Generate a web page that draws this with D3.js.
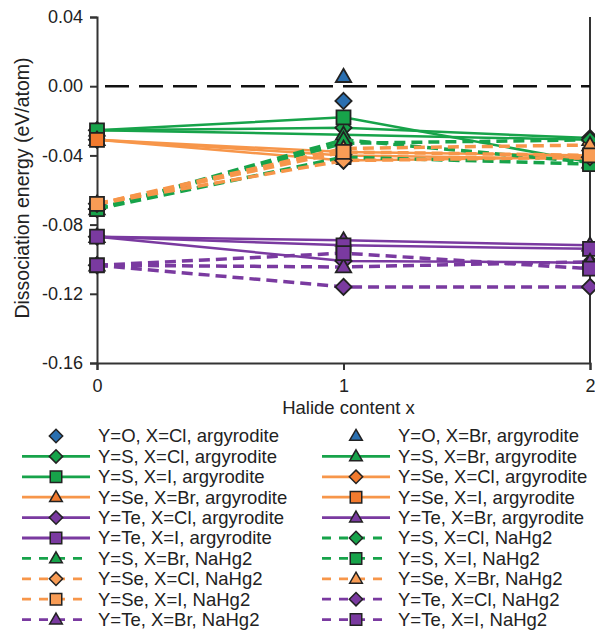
<!DOCTYPE html>
<html>
<head>
<meta charset="utf-8">
<script src="https://cdn.jsdelivr.net/npm/d3@7"></script>
<style>
  html, body { margin: 0; padding: 0; background: #fff; }
  svg { display: block; font-family: "Liberation Sans", Arial, sans-serif; }
</style>
</head>
<body>
<svg id="chart" width="595" height="633"></svg>
<script>
// ---------------- DATA ----------------
const xValues = [0, 1, 2];
const yTicks = [0.04, 0.00, -0.04, -0.08, -0.12, -0.16];
const xTicks = [0, 1, 2];

const seriesNames = [
  "Y=O, X=Cl, argyrodite",
  "Y=O, X=Br, argyrodite",
  "Y=S, X=Cl, argyrodite",
  "Y=S, X=Br, argyrodite",
  "Y=S, X=I, argyrodite",
  "Y=Se, X=Cl, argyrodite",
  "Y=Se, X=Br, argyrodite",
  "Y=Se, X=I, argyrodite",
  "Y=Te, X=Cl, argyrodite",
  "Y=Te, X=Br, argyrodite",
  "Y=Te, X=I, argyrodite",
  "Y=S, X=Cl, NaHg2",
  "Y=S, X=Br, NaHg2",
  "Y=S, X=I, NaHg2",
  "Y=Se, X=Cl, NaHg2",
  "Y=Se, X=Br, NaHg2",
  "Y=Se, X=I, NaHg2",
  "Y=Te, X=Cl, NaHg2",
  "Y=Te, X=Br, NaHg2",
  "Y=Te, X=I, NaHg2"
];

const seriesValues = [
  [null, -0.0085, null],
  [null, 0.0055, null],
  [-0.0255, -0.024, -0.030],
  [-0.0255, -0.028, -0.031],
  [-0.0255, -0.018, -0.044],
  [-0.031, -0.043, -0.041],
  [-0.031, -0.038, -0.040],
  [-0.031, -0.040, -0.042],
  [-0.087, -0.101, -0.102],
  [-0.087, -0.089, -0.092],
  [-0.087, -0.092, -0.094],
  [-0.071, -0.033, -0.031],
  [-0.071, -0.031, -0.044],
  [-0.071, -0.041, -0.045],
  [-0.068, -0.043, -0.041],
  [-0.068, -0.036, -0.034],
  [-0.068, -0.038, -0.040],
  [-0.1035, -0.116, -0.116],
  [-0.1035, -0.1045, -0.1015],
  [-0.1035, -0.0965, -0.1055]
];

const xTitle = "Halide content x";
const yTitle = "Dissociation energy (eV/atom)";

// ---------------- STYLE ----------------
const colorByY = { O: "#2a6fb0", S: "#17a34a", Se: "#f7964a", Te: "#7a3aa0" };
const fillByY = {
  arg: { O: "#2a6fb0", S: "#17a34a", Se: "#f27a2e", Te: "#7a3aa0" },
  na:  { O: "#2a6fb0", S: "#17a34a", Se: "#f89c55", Te: "#7a3aa0" }
};
const markerByX = { Cl: "diamond", Br: "triangle", I: "square" };

function parse(name) {
  const m = name.match(/Y=(\w+), X=(\w+), (\w+)/);
  return { Y: m[1], X: m[2], struct: m[3] };
}

function markerPath(type, s) {
  if (type === "square") {
    const h = s / 2;
    return `M${-h},${-h}H${h}V${h}H${-h}Z`;
  } else if (type === "diamond") {
    const h = s * 0.58;
    return `M0,${-h}L${h},0L0,${h}L${-h},0Z`;
  } else {
    const w = s * 0.55, hh = s * 0.95;
    return `M0,${-hh * 0.6}L${w},${hh * 0.4}L${-w},${hh * 0.4}Z`;
  }
}

// ---------------- LAYOUT ----------------
const svg = d3.select("#chart");
const plot = { left: 97, right: 590, top: 17, bottom: 363 };

const x = d3.scaleLinear().domain([0, 2]).range([plot.left, plot.right]);
const y = d3.scaleLinear().domain([-0.16, 0.04]).range([plot.bottom, plot.top]);

const axisColor = "#333";

// Left axis
const yAxis = d3.axisLeft(y).tickValues(yTicks).tickSize(7).tickPadding(7)
  .tickFormat(d => d3.format(".2f")(d).replace("−", "-"));
const gy = svg.append("g").attr("transform", `translate(${plot.left},0)`).call(yAxis);
gy.select(".domain").attr("stroke", axisColor).attr("stroke-width", 2);
gy.selectAll(".tick line").attr("stroke", axisColor).attr("stroke-width", 2);
gy.selectAll(".tick text").attr("font-size", 18).attr("fill", "#222")
  .attr("font-family", "'Liberation Sans', Arial, sans-serif");

// Bottom axis
const xAxis = d3.axisBottom(x).tickValues(xTicks).tickSize(7).tickPadding(9).tickFormat(d3.format("d"));
const gx = svg.append("g").attr("transform", `translate(0,${plot.bottom})`).call(xAxis);
gx.select(".domain").attr("stroke", axisColor).attr("stroke-width", 2);
gx.selectAll(".tick line").attr("stroke", axisColor).attr("stroke-width", 2);
gx.selectAll(".tick text").attr("font-size", 18).attr("fill", "#222")
  .attr("font-family", "'Liberation Sans', Arial, sans-serif");

// Right border line
svg.append("line")
  .attr("x1", x(2)).attr("x2", x(2)).attr("y1", y(0.04)).attr("y2", y(-0.16))
  .attr("stroke", axisColor).attr("stroke-width", 2);

// Zero reference line
svg.append("line")
  .attr("x1", x(0)).attr("x2", x(2)).attr("y1", y(0)).attr("y2", y(0))
  .attr("stroke", "#111").attr("stroke-width", 2.5).attr("stroke-dasharray", "24,10")
  .attr("stroke-dashoffset", -8);

// Axis titles
svg.append("text").attr("x", (plot.left + plot.right) / 2 + 5).attr("y", 414)
  .attr("text-anchor", "middle").attr("font-size", 18.5).attr("fill", "#222").text(xTitle);
svg.append("text")
  .attr("transform", `translate(29,${(plot.top + plot.bottom) / 2 - 2}) rotate(-90)`)
  .attr("text-anchor", "middle").attr("font-size", 19.5).attr("fill", "#222").text(yTitle);

// Series
const line = d3.line().defined(d => d.v !== null).x(d => x(d.x)).y(d => y(d.v));

seriesNames.forEach((name, i) => {
  const p = parse(name);
  const color = colorByY[p.Y];
  const fill = (p.struct === "NaHg2" ? fillByY.na : fillByY.arg)[p.Y];
  const dashed = p.struct === "NaHg2";
  const pts = xValues.map((xv, j) => ({ x: xv, v: seriesValues[i][j] }));
  const g = svg.append("g");
  if (p.Y !== "O") {
    g.append("path").datum(pts).attr("d", line).attr("fill", "none")
      .attr("stroke", color).attr("stroke-width", dashed ? 3.5 : 2.5)
      .attr("stroke-dasharray", dashed ? "11,6" : null);
  }
  g.selectAll("path.m").data(pts.filter(d => d.v !== null)).enter().append("path")
    .attr("class", "m")
    .attr("transform", d => `translate(${x(d.x)},${y(d.v)})`)
    .attr("d", markerPath(markerByX[p.X], 14))
    .attr("fill", fill).attr("stroke", "#222").attr("stroke-width", 1.8);
});

// Legend
const rowY0 = 436, rowDY = 20.4;
seriesNames.forEach((name, i) => {
  const p = parse(name);
  const col = i % 2, row = Math.floor(i / 2);
  const cx = col === 0 ? 56 : 356;
  const ly = rowY0 + row * rowDY;
  const color = colorByY[p.Y];
  const fill = (p.struct === "NaHg2" ? fillByY.na : fillByY.arg)[p.Y];
  const dashed = p.struct === "NaHg2";
  const g = svg.append("g");
  if (p.Y !== "O") {
    g.append("line").attr("x1", cx - 34).attr("x2", cx + 34).attr("y1", ly).attr("y2", ly)
      .attr("stroke", color).attr("stroke-width", 2.8)
      .attr("stroke-dasharray", dashed ? "9,8" : null);
  }
  g.append("path").attr("transform", `translate(${cx},${ly})`)
    .attr("d", markerPath(markerByX[p.X], 11.5))
    .attr("fill", fill).attr("stroke", "#222").attr("stroke-width", 1.5);
  g.append("text").attr("x", cx + 42).attr("y", ly).attr("dy", "0.35em")
    .attr("font-size", 18.5).attr("fill", "#222").text(name);
});
</script>
</body>
</html>
